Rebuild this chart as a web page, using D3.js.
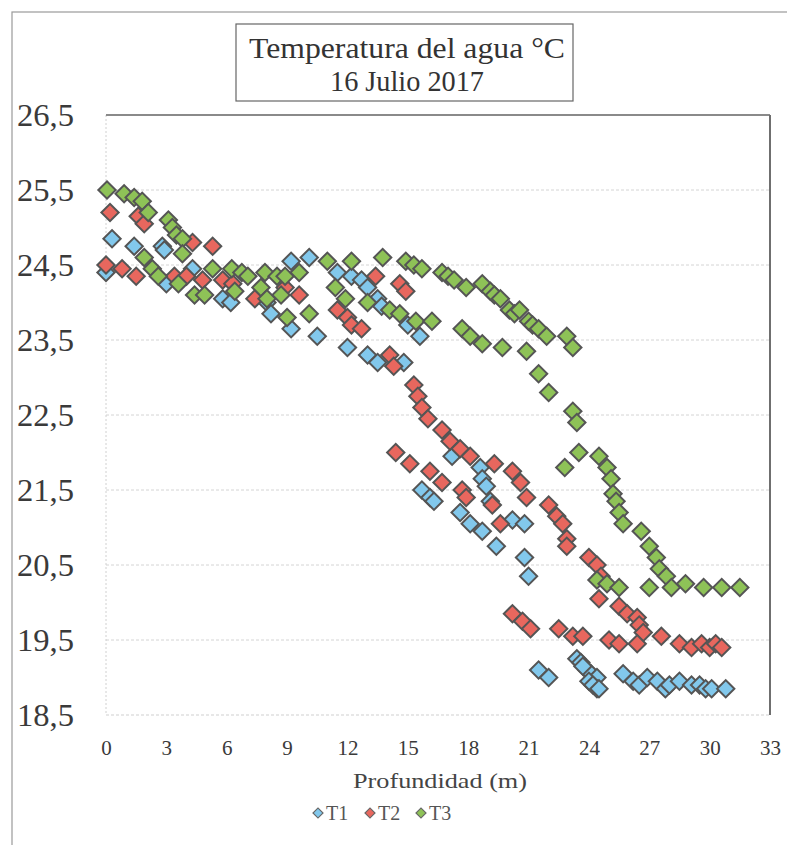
<!DOCTYPE html>
<html><head><meta charset="utf-8">
<script src="https://cdn.jsdelivr.net/npm/d3@7"></script>
<style>
html,body{margin:0;padding:0;background:#fff;}
svg{display:block;}
</style></head>
<body>
<svg id="chart" width="787" height="845"></svg>
<script>
// ---- data ----
const titleLines = ["Temperatura del agua °C", "16 Julio 2017"];
const xTicks = [0,3,6,9,12,15,18,21,24,27,30,33];
const yTicks = [18.5,19.5,20.5,21.5,22.5,23.5,24.5,25.5,26.5];
const xTitle = "Profundidad (m)";
const seriesNames = ["T1","T2","T3"];
const seriesColors = ["#82c8ec","#e8675e","#8ec257"];

// [depth (m), temperature (°C)]
const t1 = [[0.0,24.4],[0.3,24.85],[1.4,24.75],[2.8,24.75],[2.9,24.7],[4.3,24.45],[3.0,24.25],[5.8,24.05],[6.2,24.0],[8.0,24.0],[8.2,23.85],[9.2,23.65],[10.5,23.55],[9.2,24.55],[10.1,24.6],[11.5,24.4],[12.2,24.35],[12.7,24.3],[13.0,24.2],[13.5,24.05],[13.7,23.95],[15.0,23.7],[15.6,23.55],[12.0,23.4],[13.0,23.3],[13.5,23.2],[14.8,23.2],[15.7,21.5],[16.1,21.4],[16.3,21.35],[17.6,21.2],[18.1,21.05],[18.7,20.95],[19.4,20.75],[17.2,21.95],[18.6,21.8],[18.7,21.65],[18.9,21.55],[19.1,21.35],[20.2,21.1],[20.8,21.05],[20.8,20.6],[21.0,20.35],[21.5,19.1],[22.0,19.0],[23.4,19.25],[23.6,19.2],[23.9,19.1],[24.1,19.05],[24.4,19.0],[24.4,18.85],[23.7,19.15],[24.0,18.95],[24.2,18.9],[24.5,18.85],[25.7,19.05],[26.2,18.95],[26.5,18.9],[26.9,19.0],[27.4,18.95],[27.8,18.85],[28.0,18.9],[28.5,18.95],[29.1,18.9],[29.5,18.9],[29.8,18.85],[30.1,18.85],[30.8,18.85]];
const t2 = [[0.2,25.2],[1.6,25.15],[1.9,25.05],[0.0,24.5],[0.8,24.45],[1.5,24.35],[3.4,24.35],[4.0,24.35],[4.8,24.3],[4.3,24.8],[5.3,24.75],[5.8,24.3],[6.3,24.25],[7.4,24.05],[8.9,24.2],[9.6,24.1],[11.5,23.9],[12.0,23.8],[12.2,23.7],[12.7,23.65],[13.4,24.35],[14.6,24.25],[14.9,24.15],[14.1,23.3],[14.3,23.15],[15.3,22.9],[15.5,22.75],[15.7,22.6],[16.0,22.45],[16.7,22.3],[17.1,22.15],[17.6,22.05],[18.1,21.95],[19.3,21.85],[20.2,21.75],[20.6,21.6],[20.9,21.4],[14.4,22.0],[15.1,21.85],[16.1,21.75],[16.7,21.6],[17.7,21.5],[17.9,21.4],[19.2,21.3],[19.6,21.05],[22.0,21.3],[22.4,21.15],[22.7,21.05],[22.9,20.85],[22.9,20.75],[24.0,20.6],[24.4,20.5],[24.6,20.35],[24.5,20.05],[25.5,19.95],[25.9,19.85],[26.4,19.8],[26.5,19.7],[26.7,19.6],[20.2,19.85],[20.7,19.75],[21.1,19.65],[22.5,19.65],[23.2,19.55],[23.7,19.55],[25.0,19.5],[25.5,19.45],[26.4,19.45],[27.6,19.55],[28.5,19.45],[29.1,19.4],[29.6,19.45],[30.0,19.4],[30.3,19.45],[30.6,19.4]];
const t3 = [[0.05,25.5],[0.9,25.45],[1.4,25.4],[1.8,25.35],[2.1,25.2],[3.1,25.1],[3.3,25.0],[3.5,24.9],[3.8,24.85],[3.8,24.65],[1.9,24.6],[2.3,24.45],[2.6,24.35],[3.6,24.25],[4.4,24.1],[4.9,24.1],[5.3,24.45],[6.25,24.45],[6.75,24.4],[7.05,24.35],[6.4,24.15],[7.9,24.4],[8.5,24.35],[8.9,24.35],[7.7,24.2],[8.0,24.05],[8.7,24.1],[9.0,23.8],[9.6,24.4],[11.0,24.55],[12.2,24.55],[13.75,24.6],[14.9,24.55],[15.3,24.5],[15.7,24.45],[10.1,23.85],[11.4,24.2],[11.9,24.05],[13.0,24.0],[14.1,23.9],[14.6,23.85],[15.4,23.75],[16.2,23.75],[16.7,24.4],[17.0,24.35],[17.3,24.3],[17.9,24.2],[18.7,24.25],[19.1,24.15],[19.3,24.1],[19.6,24.05],[20.05,23.9],[20.3,23.85],[20.55,23.9],[21.0,23.75],[21.2,23.7],[21.5,23.65],[21.9,23.55],[22.9,23.55],[23.2,23.4],[17.7,23.65],[18.1,23.55],[18.7,23.45],[19.7,23.4],[20.9,23.35],[21.5,23.05],[22.0,22.8],[23.2,22.55],[23.4,22.4],[23.5,22.0],[22.8,21.8],[24.5,21.95],[24.9,21.8],[25.1,21.65],[25.2,21.45],[25.35,21.35],[25.5,21.2],[25.7,21.05],[26.6,20.95],[27.0,20.75],[27.35,20.6],[27.5,20.45],[27.85,20.35],[28.1,20.2],[27.0,20.2],[28.8,20.25],[29.7,20.2],[30.6,20.2],[31.5,20.2],[24.4,20.3],[24.9,20.25],[25.5,20.2]];
const allSeries = [t1, t2, t3];

// ---- layout ----
const svg = d3.select("#chart");
const pL = 106, pR = 770, pT = 115, pB = 715;
const x = d3.scaleLinear().domain([0,33]).range([pL,pR]);
const y = d3.scaleLinear().domain([18.5,26.5]).range([pB,pT]);
const serif = "'Liberation Serif','DejaVu Serif',serif";

// outer frame
svg.append("rect").attr("x",12).attr("y",12).attr("width",800).attr("height",860)
  .attr("fill","none").attr("stroke","#9a9a9a").attr("stroke-width",1.2);

// plot area
svg.append("rect").attr("x",pL).attr("y",pT).attr("width",pR-pL).attr("height",pB-pT)
  .attr("fill","#fff");

// gridlines
svg.append("g").selectAll("line").data(yTicks.slice(1,-1)).join("line")
  .attr("x1",pL).attr("x2",pR).attr("y1",d=>y(d)).attr("y2",d=>y(d))
  .attr("stroke","#d4d4d4").attr("stroke-width",1).attr("stroke-dasharray","3,2");
svg.append("line").attr("x1",pL).attr("x2",pL).attr("y1",pT).attr("y2",pB)
  .attr("stroke","#d0d0d0").attr("stroke-dasharray","2,2");
svg.append("line").attr("x1",pL).attr("x2",pR).attr("y1",pB).attr("y2",pB)
  .attr("stroke","#cfcfcf").attr("stroke-dasharray","3,2");
svg.append("line").attr("x1",pL).attr("x2",pR).attr("y1",pT).attr("y2",pT)
  .attr("stroke","#8a8a8a").attr("stroke-width",2);
svg.append("line").attr("x1",pR).attr("x2",pR).attr("y1",pT).attr("y2",pB)
  .attr("stroke","#6f6f6f").attr("stroke-width",2);

// y axis labels
const yAxis = d3.axisLeft(y).tickValues(yTicks).tickSize(0)
  .tickFormat(d=>d3.format(".1f")(d).replace(".",","));
const gy = svg.append("g").attr("transform",`translate(${pL},0)`).call(yAxis);
gy.select(".domain").remove();
gy.selectAll("text").attr("x",-89).attr("text-anchor","start")
  .attr("font-family",serif).attr("font-size",31).attr("fill","#3a3a3a").attr("dy","0.34em")
  .attr("textLength",57).attr("lengthAdjust","spacingAndGlyphs");

// x axis labels
const xAxis = d3.axisBottom(x).tickValues(xTicks).tickSize(0).tickFormat(d3.format("d"));
const gx = svg.append("g").attr("transform",`translate(0,${pB})`).call(xAxis);
gx.select(".domain").remove();
gx.selectAll("text").attr("y",33).attr("dy","0.35em")
  .attr("font-family",serif).attr("font-size",21).attr("fill","#3a3a3a");

// axis title
svg.append("text").attr("x",440).attr("y",788).attr("text-anchor","middle")
  .attr("font-family",serif).attr("font-size",21).attr("fill","#444")
  .attr("textLength",174).attr("lengthAdjust","spacingAndGlyphs").text(xTitle);

// title box
svg.append("rect").attr("x",236).attr("y",24).attr("width",337).attr("height",77)
  .attr("fill","#fff").attr("stroke","#666").attr("stroke-width",1.2);
svg.append("text").attr("x",407).attr("y",58).attr("text-anchor","middle")
  .attr("font-family",serif).attr("font-size",29).attr("fill","#333")
  .attr("textLength",316).attr("lengthAdjust","spacingAndGlyphs").text(titleLines[0]);
svg.append("text").attr("x",407).attr("y",91).attr("text-anchor","middle")
  .attr("font-family",serif).attr("font-size",29).attr("fill","#333")
  .attr("textLength",154).attr("lengthAdjust","spacingAndGlyphs").text(titleLines[1]);

// markers
const sym = d3.symbol().type(d3.symbolSquare).size(150);
allSeries.forEach((data,i)=>{
  svg.append("g").selectAll("path").data(data).join("path")
    .attr("d",sym)
    .attr("transform",d=>`translate(${x(d[0])},${y(d[1])}) rotate(45)`)
    .attr("fill",seriesColors[i]).attr("stroke","#555").attr("stroke-width",2);
});

// legend
const legX = [318,370,421];
const lsym = d3.symbol().type(d3.symbolSquare).size(50);
seriesNames.forEach((n,i)=>{
  svg.append("path").attr("d",lsym)
    .attr("transform",`translate(${legX[i]},813) rotate(45)`)
    .attr("fill",seriesColors[i]).attr("stroke","#666").attr("stroke-width",1.2);
  svg.append("text").attr("x",legX[i]+8).attr("y",820)
    .attr("font-family",serif).attr("font-size",20).attr("fill","#555").text(n);
});
</script>
</body></html>
